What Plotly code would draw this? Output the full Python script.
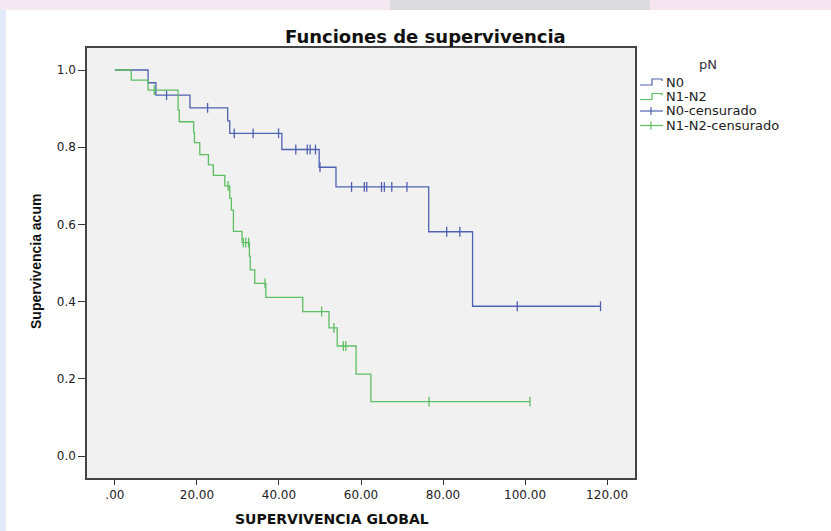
import plotly.graph_objects as go

# ---- data -------------------------------------------------------------
# Kaplan-Meier step curves: time of each step and survival after it
n0_time = [0, 8.1, 10.0, 18.3, 27.5, 28.0, 40.7, 49.8, 53.9, 76.5, 87.2, 118.4]
n0_surv = [1.0, 0.967, 0.935, 0.902, 0.868, 0.836, 0.794, 0.748, 0.697, 0.581, 0.388, 0.388]
n0_cens = [12.6, 22.6, 29.1, 33.7, 39.9, 44.1, 46.9, 47.6, 48.9, 50.0,
           57.7, 60.8, 61.4, 65.0, 65.7, 67.5, 71.2, 80.9, 84.1, 98.1, 118.4]

n12_time = [0, 4.0, 8.1, 15.4, 15.7, 19.2, 19.4, 20.7, 22.8, 24.0, 26.8, 28.0,
            28.4, 28.9, 31.0, 32.8, 33.0, 34.1, 36.8, 45.8, 52.2, 54.2, 58.8,
            62.4, 101.2]
n12_surv = [1.0, 0.974, 0.948, 0.896, 0.866, 0.838, 0.812, 0.781, 0.754, 0.727,
            0.700, 0.668, 0.637, 0.582, 0.553, 0.518, 0.482, 0.447, 0.411,
            0.374, 0.332, 0.285, 0.212, 0.141, 0.141]
n12_cens = [9.6, 27.6, 31.3, 31.9, 32.6, 36.6, 50.4, 53.4, 55.7, 56.3, 76.6, 101.2]

x_ticks = [0, 20, 40, 60, 80, 100, 120]
x_labels = [".00", "20.00", "40.00", "60.00", "80.00", "100.00", "120.00"]
y_ticks = [0.0, 0.2, 0.4, 0.6, 0.8, 1.0]

legend_title = "pN"
legend_labels = ["N0", "N1-N2", "N0-censurado", "N1-N2-censurado"]

BLUE = "#4e62b2"
GREEN = "#5cbf62"


def surv_at(times, survs, t):
    s = survs[0]
    for tt, ss in zip(times, survs):
        if tt <= t:
            s = ss
    return s


fig = go.Figure()
for times, survs, cens, col in [(n0_time, n0_surv, n0_cens, BLUE),
                                (n12_time, n12_surv, n12_cens, GREEN)]:
    fig.add_trace(go.Scatter(x=times, y=survs, mode="lines", line_shape="hv",
                             line=dict(color=col, width=1.3), showlegend=False,
                             hoverinfo="skip"))
    fig.add_trace(go.Scatter(x=cens, y=[surv_at(times, survs, c) for c in cens],
                             mode="markers", showlegend=False,
                             marker=dict(symbol="line-ns", size=7,
                                         line=dict(color=col, width=1.3))))

# ---- layout geometry (pixels) ----------------------------------------
W, H = 831, 531
L, R, T, B = 87, 635, 48, 478


def px(x):
    return (x - L) / (R - L)


def py(y):
    return (B - y) / (B - T)


shapes = []
annotations = []


def label(text, x, y, size, family="DejaVu Sans", color="#111",
          xanchor="center", angle=0):
    annotations.append(dict(text=text, xref="paper", yref="paper",
                            x=px(x), y=py(y), xanchor=xanchor,
                            yanchor="middle", showarrow=False,
                            textangle=angle,
                            font=dict(family=family, size=size, color=color)))


# soft slide backdrop around the chart
shapes += [
    dict(type="rect", xref="paper", yref="paper", x0=px(0), x1=px(390),
         y0=py(10), y1=py(0), fillcolor="#f6e8f2", line_width=0, layer="below"),
    dict(type="rect", xref="paper", yref="paper", x0=px(390), x1=px(650),
         y0=py(10), y1=py(0), fillcolor="#dcdcdf", line_width=0, layer="below"),
    dict(type="rect", xref="paper", yref="paper", x0=px(650), x1=px(831),
         y0=py(10), y1=py(0), fillcolor="#f4e4f0", line_width=0, layer="below"),
    dict(type="rect", xref="paper", yref="paper", x0=px(0), x1=px(6),
         y0=py(531), y1=py(10), fillcolor="#e2ebfa", line_width=0, layer="below"),
]

# legend, drawn by hand with step / censor glyphs
label(legend_title, 708, 64, 13, color="#333")
row_y = [82, 96.5, 111, 125.5]
row_col = [BLUE, GREEN, BLUE, GREEN]
for i, (lab, yy, col) in enumerate(zip(legend_labels, row_y, row_col)):
    if i < 2:
        path = (f"M {px(640)},{py(yy + 3)} L {px(652)},{py(yy + 3)} "
                f"L {px(652)},{py(yy - 3)} L {px(662)},{py(yy - 3)} "
                f"L {px(662)},{py(yy - 1)}")
        shapes.append(dict(type="path", xref="paper", yref="paper", path=path,
                           line=dict(color=col, width=1.2)))
    else:
        shapes.append(dict(type="line", xref="paper", yref="paper",
                           x0=px(640), x1=px(663), y0=py(yy), y1=py(yy),
                           line=dict(color=col, width=1.2)))
        shapes.append(dict(type="line", xref="paper", yref="paper",
                           x0=px(651), x1=px(651), y0=py(yy - 4), y1=py(yy + 4),
                           line=dict(color=col, width=1.2)))
    label(lab, 664, yy, 13, color="#222", xanchor="left")

# titles
label("<b>Funciones de supervivencia</b>", 425, 37, 18)
label("<b>SUPERVIVENCIA GLOBAL</b>", 332, 519, 14)
label("<b>Supervivencia acum</b>", 36, 262, 14, family="Liberation Sans",
      angle=-90)

fig.update_layout(
    width=W, height=H,
    margin=dict(l=L, r=W - R, t=T, b=H - B),
    paper_bgcolor="white", plot_bgcolor="#f1f1f1",
    shapes=shapes, annotations=annotations, showlegend=False,
    xaxis=dict(range=[-6.8, 126.8], tickvals=x_ticks, ticktext=x_labels,
               ticks="outside", ticklen=5, tickwidth=1.3, tickcolor="#333",
               showgrid=False, zeroline=False, showline=True, mirror=True,
               linecolor="#444", linewidth=1.5,
               tickfont=dict(family="DejaVu Sans", size=12, color="#222")),
    yaxis=dict(range=[-0.057, 1.057], tickvals=y_ticks, tickformat=".1f",
               ticks="outside", ticklen=7, tickwidth=1.3, tickcolor="#333",
               showgrid=False, zeroline=False, showline=True, mirror=True,
               linecolor="#444", linewidth=1.5,
               tickfont=dict(family="DejaVu Sans", size=12, color="#222")),
)

fig.write_html("out.html")
